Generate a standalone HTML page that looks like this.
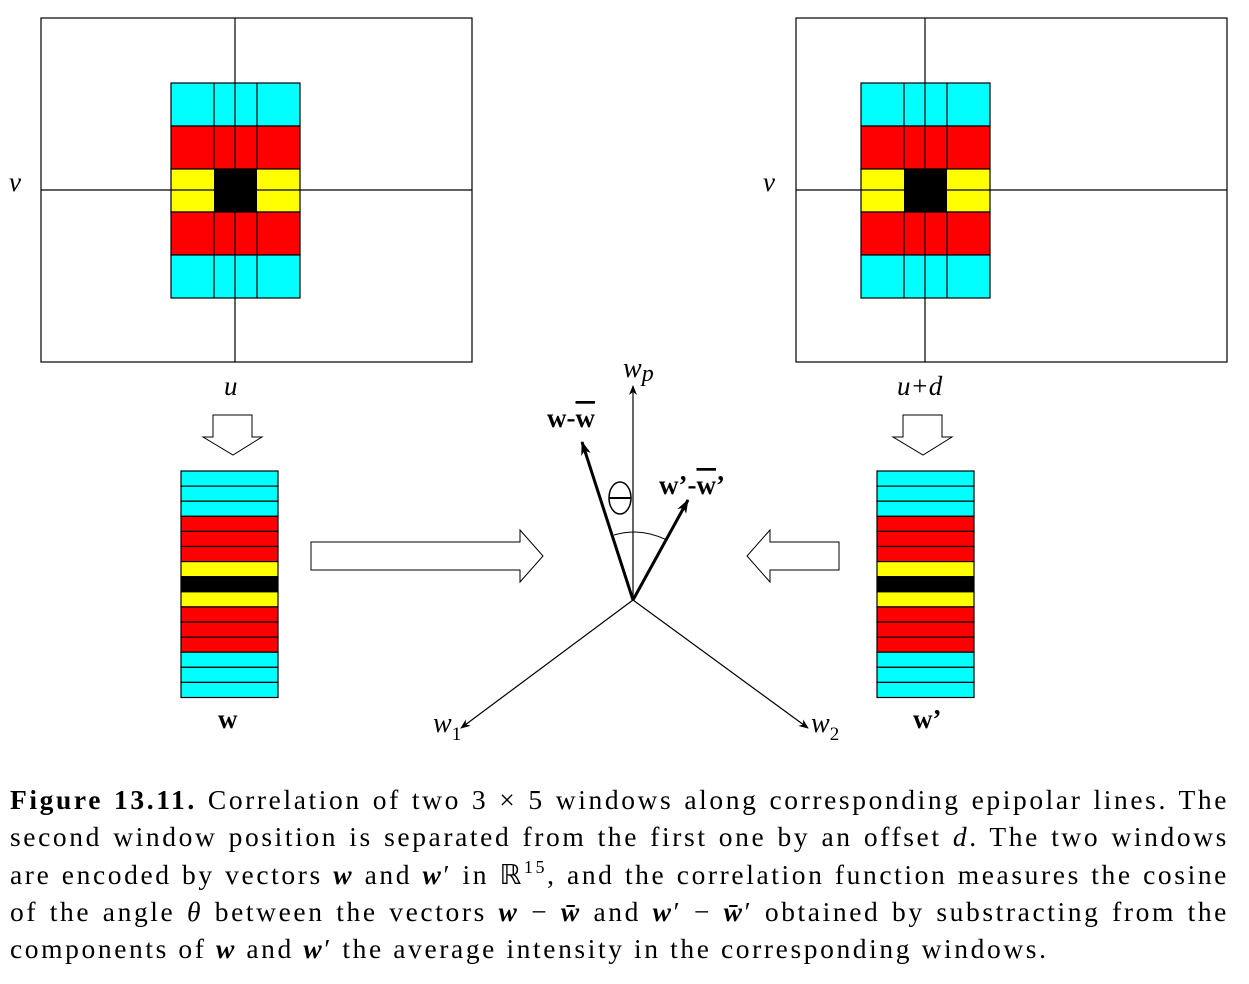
<!DOCTYPE html>
<html><head><meta charset="utf-8"><style>
body{margin:0;background:#fff;width:1249px;height:984px;overflow:hidden;position:relative}
svg{position:absolute;left:0;top:0}
.cap{position:absolute;left:10px;top:781px;width:1219px;font-family:"Liberation Serif",serif;font-size:27.5px;letter-spacing:2.6px;word-spacing:0px;line-height:37.3px;text-align:justify;color:#000}
.l{display:block;text-align-last:justify;white-space:nowrap;height:37.3px}
.last{text-align-last:left}
sup{line-height:0;font-size:18px;vertical-align:11px}
</style></head><body>
<svg width="1249" height="984" font-family="Liberation Serif, serif">
<defs><marker id="ah" markerWidth="10" markerHeight="8" refX="9" refY="4" orient="auto" markerUnits="userSpaceOnUse"><path d="M0,0 L10,4 L0,8 L3,4z" fill="#000"/></marker>
<marker id="ahb" markerWidth="14" markerHeight="10" refX="13" refY="5" orient="auto" markerUnits="userSpaceOnUse"><path d="M0,0 L14,5 L0,10 L4,5z" fill="#000"/></marker></defs>
<g id="left"></g>
<g id="right"></g>
<text x="9" y="191" font-size="27" font-style="italic">v</text>
<text x="763" y="191" font-size="27" font-style="italic">v</text>
<text x="224" y="395" font-size="27" font-style="italic">u</text>
<text x="897" y="395" font-size="27" font-style="italic">u+d</text>
<path d="M213,415 H252 V437 H262 L233,455 L203,437 H213 Z" fill="#fff" stroke="#000"/>
<path d="M903,415 H942 V437 H952 L923,455 L893,437 H903 Z" fill="#fff" stroke="#000"/>
<path d="M311,542 H520 V530 L543,556 L520,582 V570 H311 Z" fill="#fff" stroke="#000"/>
<path d="M839,542 H770 V530 L747,556 L770,582 V570 H839 Z" fill="#fff" stroke="#000"/>
<g id="strips"></g>
<text x="218" y="728" font-size="27" font-weight="bold">w</text>
<text x="913" y="728" font-size="27" font-weight="bold">w’</text>
<g>
<line x1="633" y1="600" x2="633" y2="386" stroke="#000" stroke-width="1.2" marker-end="url(#ah)"/>
<line x1="633" y1="600" x2="461" y2="728" stroke="#000" stroke-width="1.2" marker-end="url(#ah)"/>
<line x1="633" y1="600" x2="808" y2="728" stroke="#000" stroke-width="1.2" marker-end="url(#ah)"/>
<line x1="633" y1="600" x2="582" y2="442" stroke="#000" stroke-width="3" marker-end="url(#ahb)"/>
<line x1="633" y1="600" x2="688" y2="500" stroke="#000" stroke-width="3" marker-end="url(#ahb)"/>
<path d="M614,535 Q640,527 667,540" fill="none" stroke="#000" stroke-width="1"/>
<ellipse cx="620" cy="498" rx="11" ry="16" fill="none" stroke="#000" stroke-width="1.5"/>
<line x1="609" y1="498" x2="631" y2="498" stroke="#000" stroke-width="2"/>
<text x="623" y="377" font-size="28" font-style="italic">w<tspan font-size="24" dy="4">p</tspan></text>
<text x="433" y="732" font-size="28" font-style="italic">w<tspan font-size="19" dy="8" font-style="normal">1</tspan></text>
<text x="811" y="732" font-size="28" font-style="italic">w<tspan font-size="19" dy="8" font-style="normal">2</tspan></text>
<text x="547" y="427" font-size="27" font-weight="bold">w-<tspan text-decoration="overline">w</tspan></text>
<text x="659" y="494" font-size="27" font-weight="bold">w’-<tspan text-decoration="overline">w</tspan>’</text>
</g>
</svg>
<div class="cap">
<span class="l"><b>Figure 13.11.</b> Correlation of two 3 × 5 windows along corresponding epipolar lines. The</span>
<span class="l">second window position is separated from the first one by an offset <i>d</i>. The two windows</span>
<span class="l">are encoded by vectors <b><i>w</i></b> and <b><i>w</i></b>′ in ℝ<sup>15</sup>, and the correlation function measures the cosine</span>
<span class="l">of the angle <i>θ</i> between the vectors <b><i>w</i></b> − <b><i>w̄</i></b> and <b><i>w</i></b>′ − <b><i>w̄</i></b>′ obtained by substracting from the</span>
<span class="l last">components of <b><i>w</i></b> and <b><i>w</i></b>′ the average intensity in the corresponding windows.</span>
</div>
<script>
const NS='http://www.w3.org/2000/svg';
const C='#00ffff',R='#ff0000',Y='#ffff00',K='#000000';
const rowColors=[C,R,Y,R,C];
const stripColors=[C,C,C,R,R,R,Y,K,Y,R,R,R,C,C,C];
function mk(tag,attrs,parent){const e=document.createElementNS(NS,tag);for(const k in attrs)e.setAttribute(k,attrs[k]);parent.appendChild(e);return e;}
function windowDraw(g,fx,ax,gx){
  const fr=mk('rect',{x:fx,y:18,width:431,height:344,fill:'#fff',stroke:'#000','stroke-width':1.2},g);
  
  
  const cols=[gx,gx+43,gx+65,gx+86,gx+129];
  for(let r=0;r<5;r++){
    const y=83+r*43;
    const cell=mk('rect',{x:gx,y:y,width:129,height:43,fill:rowColors[r],stroke:'#000','stroke-width':1.2},g);
    
    
    if(r!==2){mk('line',{x1:cols[1],y1:y,x2:cols[1],y2:y+43,stroke:'#000','stroke-width':1.2},g);mk('line',{x1:cols[3],y1:y,x2:cols[3],y2:y+43,stroke:'#000','stroke-width':1.2},g);}
    else{mk('rect',{x:cols[1],y:y,width:43,height:43,fill:K},g);}
  }
  mk('line',{x1:ax,y1:18,x2:ax,y2:362,stroke:'#000','stroke-width':1.2},g);
  mk('line',{x1:fx,y1:190,x2:fx+431,y2:190,stroke:'#000','stroke-width':1.2},g);
}
windowDraw(document.getElementById('left'),41,235,171);
windowDraw(document.getElementById('right'),796,925,861);
const sg=document.getElementById('strips');
[181,877].forEach(x=>{
  stripColors.forEach((c,i)=>{
    const r=mk('rect',{x:x,y:471+i*15.1,width:97,height:15.1,fill:c,stroke:'#000','stroke-width':1.2},sg);
    
    
  });
});
</script>
</body></html>
